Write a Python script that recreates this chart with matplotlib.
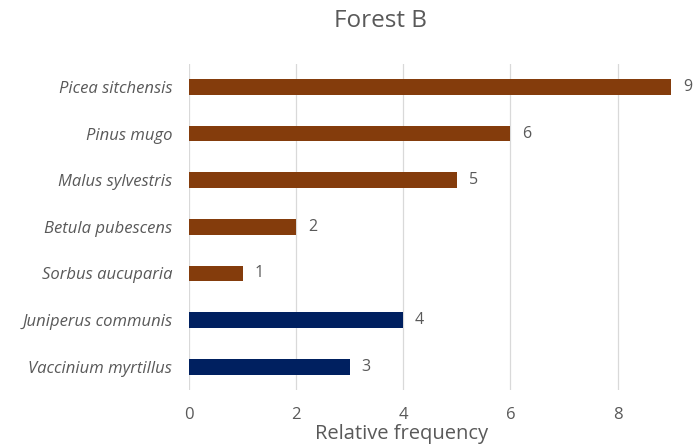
import matplotlib.pyplot as plt

# species listed top to bottom, with their counts
species = ["Picea sitchensis", "Pinus mugo", "Malus sylvestris", "Betula pubescens",
           "Sorbus aucuparia", "Juniperus communis", "Vaccinium myrtillus"]
values = [9, 6, 5, 2, 1, 4, 3]
groups = ["tree", "tree", "tree", "tree", "tree", "shrub", "shrub"]

group_colors = {"tree": "#843C0C", "shrub": "#002060"}
text_col = "#595959"

plt.rcParams['font.family'] = ['Open Sans', 'DejaVu Sans']

fig = plt.figure(figsize=(6.94, 4.45), dpi=100)
ax = fig.add_axes([0.2723, 0.1236, 0.6947, 0.7334])

ypos = list(range(len(species)))
bars = ax.barh(ypos, values, height=0.34,
               color=[group_colors[g] for g in groups], zorder=3)
ax.set_ylim(len(species) - 0.5, -0.5)
ax.set_xlim(0, 9)
ax.set_xticks([0, 2, 4, 6, 8])

for b, v in zip(bars, values):
    ax.text(b.get_width() + 0.22, b.get_y() + b.get_height() / 2, str(v),
            va='center', ha='left', color=text_col, fontsize=11.5)

ax.set_yticks(ypos)
ax.set_yticklabels(species, fontstyle='italic', color=text_col, fontsize=12)
ax.tick_params(axis='x', colors=text_col, labelsize=12, length=0, pad=12)
ax.tick_params(axis='y', length=0, pad=12)

ax.grid(axis='x', color='#D9D9D9', linewidth=0.9, zorder=0)
for s in ax.spines.values():
    s.set_visible(False)

ax.set_xlabel("Relative frequency", color=text_col, fontsize=14.5)
ax.xaxis.set_label_coords(0.44, -0.105)
fig.suptitle("Forest B", x=0.548, y=0.98, color=text_col, fontsize=17.5)

fig.savefig("out.png", dpi=100)
